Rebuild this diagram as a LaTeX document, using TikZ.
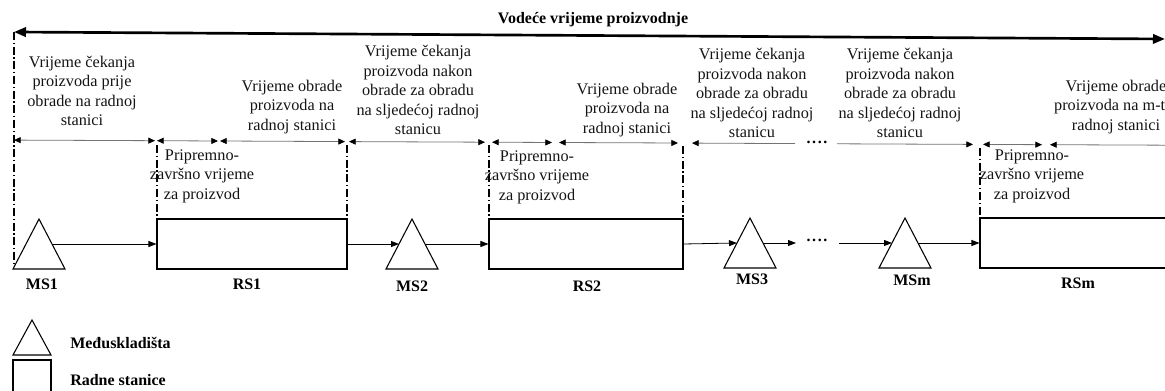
\documentclass[tikz,border=0pt]{standalone}
\usepackage{fontspec}
\setmainfont{Liberation Serif}
\usetikzlibrary{arrows.meta}
\tikzset{
  txt/.style={align=center, inner sep=0pt, text=black!92, font=\fontsize{12.2}{14.6}\selectfont},
  dots/.style={inner sep=0pt, font=\fontsize{12}{14}\selectfont\bfseries},
  lbl/.style={inner sep=0pt, text=black, font=\fontsize{12}{14}\selectfont\bfseries},
  station/.style={draw, line width=0.8pt, rectangle, inner sep=0pt, minimum width=#1, minimum height=37.5pt},
  store/.style={line width=0.8pt},
  flow/.style={line width=0.6pt, -{Triangle[length=6pt,width=4.5pt]}},
  dim/.style={line width=0.6pt, draw=black!55, {Triangle[length=5pt,width=4.5pt,fill=black,color=black]}-{Triangle[length=5pt,width=4.5pt,fill=black,color=black]}},
  dimleft/.style={line width=0.6pt, draw=black!55, {Triangle[length=5pt,width=4.5pt,fill=black,color=black]}-},
  dimright/.style={line width=0.6pt, draw=black!55, -{Triangle[length=5pt,width=4.5pt,fill=black,color=black]}},
  border/.style={line width=1.1pt, dash pattern=on 6pt off 2pt on 1pt off 2pt},
  lead/.style={line width=2pt, {Triangle[length=9pt,width=7pt]}-{Triangle[length=9pt,width=7pt]}}
}
\begin{document}
\begin{tikzpicture}[x=0.75pt,y=-0.75pt]
\path[use as bounding box] (0,0) rectangle (1165,391);
\clip (0,0) rectangle (1165,391);

% title and lead-time arrow
\node[lbl] (title) at (593,20) {Vodeće vrijeme proizvodnje};
\coordinate (leadL) at (14,32);
\coordinate (leadR) at (1165,39);
\draw[lead] (leadL) -- (leadR);

% vertical boundaries
\coordinate (v0t) at (14,32);   \coordinate (v0b) at (14,265);
\coordinate (v1t) at (157,145); \coordinate (v1b) at (157,252);
\coordinate (v2t) at (347,145); \coordinate (v2b) at (347,269);
\coordinate (v3t) at (489,145); \coordinate (v3b) at (489,265);
\coordinate (v4t) at (683,146); \coordinate (v4b) at (683,269);
\coordinate (v5t) at (980,148); \coordinate (v5b) at (980,252);
\draw[border] (v0t) -- (v0b);
\draw[border] (v1t) -- (v1b);
\draw[border] (v2t) -- (v2b);
\draw[border] (v3t) -- (v3b);
\draw[border] (v4t) -- (v4b);
\draw[border] (v5t) -- (v5b);

% dimension line points
\coordinate (d1) at (14,140.1);
\coordinate (d2) at (155,140.7);
\coordinate (d3) at (157,140.7);
\coordinate (d4) at (218,141.0);
\coordinate (d5) at (220,141.0);
\coordinate (d6) at (345,141.6);
\coordinate (d7) at (349,141.6);
\coordinate (d8) at (485,142.2);
\coordinate (d9) at (492,142.2);
\coordinate (d10) at (552,142.5);
\coordinate (d11) at (559,142.5);
\coordinate (d12) at (678,143.0);
\coordinate (d13) at (692,143.1);
\coordinate (d14) at (795,143.6);
\coordinate (d15) at (837,143.8);
\coordinate (d16) at (973,144.4);
\coordinate (d17) at (983,144.4);
\coordinate (d18) at (1042,144.7);
\coordinate (d19) at (1050,144.7);
\coordinate (d20) at (1170,145.2);
\draw[dim] (d1) -- (d2);
\draw[dim] (d3) -- (d4);
\draw[dim] (d5) -- (d6);
\draw[dim] (d7) -- (d8);
\draw[dim] (d9) -- (d10);
\draw[dim] (d11) -- (d12);
\draw[dimleft] (d13) -- (d14);
\node[dots] (ddots) at (817,142) {.\kern1.2pt.\kern1.2pt.\kern1.2pt.};
\draw[dimright] (d15) -- (d16);
\draw[dim] (d17) -- (d18);
\draw[dimleft] (d19) -- (d20);

% time texts
\node[txt] (t1) at (82,91) {Vrijeme čekanja\\proizvoda prije\\obrade na radnoj\\stanici};
\node[txt] (t2) at (292,107) {Vrijeme obrade\\proizvoda na\\radnoj stanici};
\node[txt] (t3) at (418,90) {Vrijeme čekanja\\proizvoda nakon\\obrade za obradu\\na sljedećoj radnoj\\stanicu};
\node[txt] (t4) at (627,110) {Vrijeme obrade\\proizvoda na\\radnoj stanici};
\node[txt] (t5) at (752,93) {Vrijeme čekanja\\proizvoda nakon\\obrade za obradu\\na sljedećoj radnoj\\stanicu};
\node[txt] (t6) at (900,93) {Vrijeme čekanja\\proizvoda nakon\\obrade za obradu\\na sljedećoj radnoj\\stanicu};
\node[txt] (t7) at (1116,107) {Vrijeme obrade\\proizvoda na m-toj\\radnoj stanici};
\node[txt] (p1) at (202,176) {Pripremno-\\završno vrijeme\\za proizvod};
\node[txt] (p2) at (537,177) {Pripremno-\\završno vrijeme\\za proizvod};
\node[txt] (p3) at (1032,176) {Pripremno-\\završno vrijeme\\za proizvod};

% work stations
\node[station=142.5pt] (rs1) at (252,244) {};
\node[station=145.5pt] (rs2) at (586,244) {};
\node[station=145.5pt] (rsm) at (1077,243) {};

% intermediate stores (triangles)
\draw[store] (39,219) -- (65,269) -- (13,269) -- cycle;
\coordinate (ms1r) at (52,244);
\draw[store] (412,219) -- (438,269) -- (386,269) -- cycle;
\coordinate (ms2l) at (399,244); \coordinate (ms2r) at (425,244);
\draw[store] (750,218) -- (776,268) -- (724,268) -- cycle;
\coordinate (ms3l) at (737,243); \coordinate (ms3r) at (763,243);
\draw[store] (905,218) -- (931,268) -- (879,268) -- cycle;
\coordinate (msml) at (892,243); \coordinate (msmr) at (918,243);

% flow connectors
\draw[flow] (ms1r) -- (rs1.west);
\draw[flow] (rs1.east) -- (ms2l);
\draw[flow] (ms2r) -- (rs2.west);
\draw[flow] (rs2.east) -- (ms3l);
\coordinate (f1) at (796,243);
\coordinate (f2) at (839,243);
\draw[flow] (ms3r) -- (f1);
\node[dots] (fdots) at (817,240) {.\kern1.2pt.\kern1.2pt.\kern1.2pt.};
\draw[flow] (f2) -- (msml);
\draw[flow] (msmr) -- (rsm.west);

% labels
\node[lbl] (lms1) at (42,284) {MS1};
\node[lbl] (lrs1) at (247,284) {RS1};
\node[lbl] (lms2) at (412,286) {MS2};
\node[lbl] (lrs2) at (587,286) {RS2};
\node[lbl] (lms3) at (752,279) {MS3};
\node[lbl] (lmsm) at (912,280) {MSm};
\node[lbl] (lrsm) at (1078,283) {RSm};

% legend
\draw[store] (32,320) -- (51,355) -- (13,355) -- cycle;
\draw[store] (13,400) -- (13,360) -- (51,360) -- (51,400);
\node[lbl, anchor=west] (leg1) at (70,343) {Međuskladišta};
\node[lbl, anchor=west] (leg2) at (70,380) {Radne stanice};
\end{tikzpicture}
\end{document}
